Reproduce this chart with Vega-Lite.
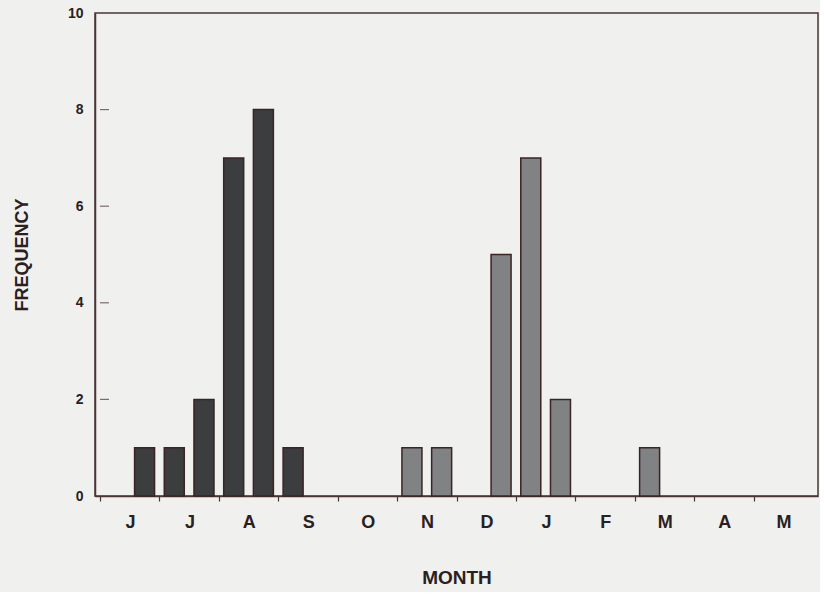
{
  "$schema": "https://vega.github.io/schema/vega-lite/v6.json",
  "width": 723,
  "height": 483,
  "padding": {"left": 13, "top": 6, "right": 2, "bottom": 5},
  "background": "#f0f0ef",
  "config": {
    "view": {"stroke": "#4a3434", "strokeWidth": 1.5},
    "font": "Liberation Sans",
    "axis": {"domainColor": "#4a3434", "tickColor": "#4a3434", "domainWidth": 1.5, "tickWidth": 1.2, "grid": false, "labelColor": "#2a2020", "titleColor": "#2a2020"}
  },
  "layer": [
    {
      "data": {
        "values": [
          {"period": "Jun-2", "month_time": 0.75, "count": 1, "group": "solid"},
          {"period": "Jul-1", "month_time": 1.25, "count": 1, "group": "solid"},
          {"period": "Jul-2", "month_time": 1.75, "count": 2, "group": "solid"},
          {"period": "Aug-1", "month_time": 2.25, "count": 7, "group": "solid"},
          {"period": "Aug-2", "month_time": 2.75, "count": 8, "group": "solid"},
          {"period": "Sep-1", "month_time": 3.25, "count": 1, "group": "solid"},
          {"period": "Nov-1", "month_time": 5.25, "count": 1, "group": "hatched"},
          {"period": "Nov-2", "month_time": 5.75, "count": 1, "group": "hatched"},
          {"period": "Dec-2", "month_time": 6.75, "count": 5, "group": "hatched"},
          {"period": "Jan-1", "month_time": 7.25, "count": 7, "group": "hatched"},
          {"period": "Jan-2", "month_time": 7.75, "count": 2, "group": "hatched"},
          {"period": "Mar-1", "month_time": 9.25, "count": 1, "group": "hatched"}
        ]
      },
      "mark": {"type": "bar", "size": 20, "stroke": "#3a2424", "strokeWidth": 1.5},
      "encoding": {
        "x": {
          "field": "month_time", "type": "quantitative",
          "scale": {"domain": [0, 12], "nice": false, "zero": false},
          "axis": {
            "values": [0, 1, 2, 3, 4, 5, 6, 7, 8, 9, 10, 11],
            "labelExpr": "['J','J','A','S','O','N','D','J','F','M','A','M'][datum.value]",
            "labelOffset": 30, "labelFlush": false, "labelOverlap": false, "labelBound": false,
            "tickSize": 5, "labelPadding": 12, "labelFontSize": 18, "labelFontWeight": "bold",
            "title": "MONTH", "titleFontSize": 19, "titleFontWeight": "bold", "titlePadding": 37
          }
        },
        "y": {
          "field": "count", "type": "quantitative",
          "scale": {"domain": [0, 10], "nice": false},
          "axis": {
            "values": [0, 2, 4, 6, 8, 10],
            "ticks": false, "labelPadding": 12, "labelFontSize": 14, "labelFontWeight": "bold",
            "title": "FREQUENCY", "titleFontSize": 18, "titleFontWeight": "bold", "titlePadding": 36
          }
        },
        "fill": {
          "field": "group", "type": "nominal",
          "scale": {"domain": ["solid", "hatched"], "range": ["#3c3d3e", "#808283"]},
          "legend": null
        }
      }
    },
    {
      "data": {"values": [{"tick": 2}, {"tick": 4}, {"tick": 6}, {"tick": 8}]},
      "mark": {"type": "tick", "orient": "horizontal", "size": 9, "thickness": 1.2, "color": "#4a3434", "xOffset": 4.5},
      "encoding": {
        "x": {"datum": 0, "type": "quantitative"},
        "y": {"field": "tick", "type": "quantitative"}
      }
    },
    {
      "mark": {"type": "text", "text": "N = 37", "fontSize": 20, "fontWeight": "normal", "color": "#6a5656", "align": "center", "baseline": "middle"},
      "encoding": {
        "x": {"datum": 11.15, "type": "quantitative"},
        "y": {"datum": 9.42, "type": "quantitative"}
      }
    }
  ]
}
